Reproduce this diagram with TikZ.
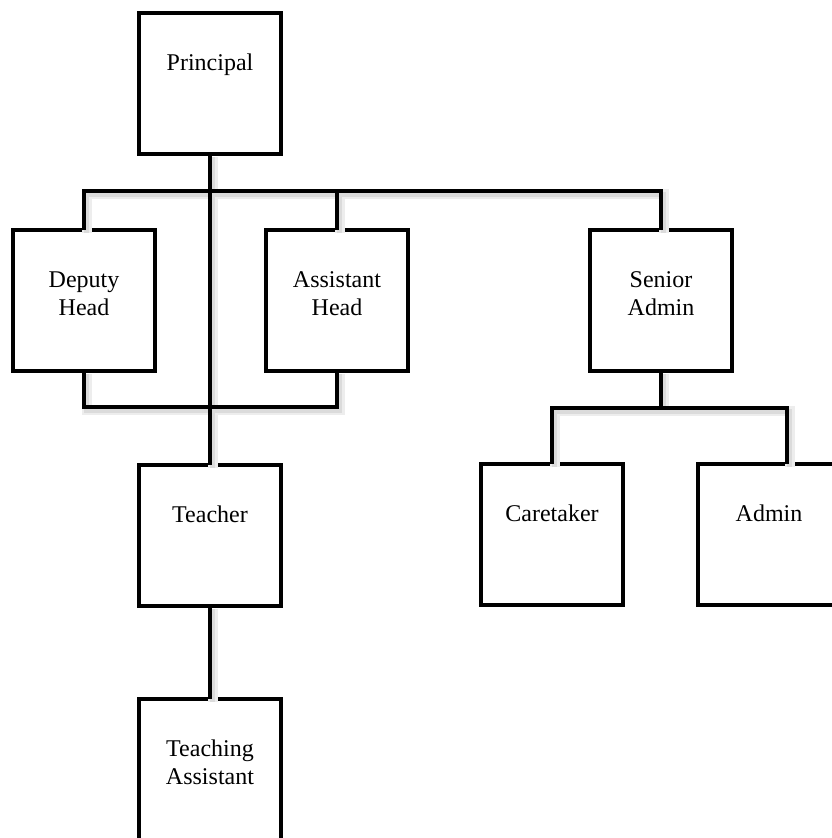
\documentclass[tikz,border=0pt]{standalone}
\usepackage{fontspec}
\setmainfont{Liberation Serif}
\usetikzlibrary{calc}
\newcommand{\bxtext}[1]{\parbox[t][141pt][t]{142pt}{\centering\fontsize{24}{28}\selectfont\rule{0pt}{57pt}#1}}
\newcommand{\orgconnectors}{%
  \draw (deputy.north) -- (deputy.north |- topbar) -- (senior.north |- topbar) -- (senior.north);
  \draw (assistant.north) -- (assistant.north |- topbar);
  \draw (principal.south) -- (teacher.north);
  \draw (deputy.south) -- (deputy.south |- lowbar) -- (assistant.south |- lowbar) -- (assistant.south);
  \draw (teacher.south) -- (ta.north);
  \draw (senior.south) -- (senior.south |- admbar);
  \draw (caretaker.north) -- (caretaker.north |- admbar) -- (admtop |- admbar) -- (admtop);
}
\begin{document}
\begin{tikzpicture}[x=1pt,y=1pt,
  orgbox/.style={draw=black, fill=white, line width=4pt, inner sep=0pt, outer sep=0pt, anchor=north west},
  connshadowa/.style={draw=black!7, line width=10pt, transform canvas={shift={(2.5pt,-3pt)}}},
  connshadowb/.style={draw=black!14, line width=5pt, transform canvas={shift={(2.5pt,-3pt)}}},
  connline/.style={draw=black, line width=4pt}]
\useasboundingbox (0,0) rectangle (832,-838);
\clip (0,0) rectangle (832,-838);
\fill[white] (0,0) rectangle (832,-838);
\coordinate (topbar) at (0,-191);
\coordinate (lowbar) at (0,-407);
\coordinate (admbar) at (0,-408);
\node[orgbox] (principal) at (139,-13) {\bxtext{Principal}};
\node[orgbox] (deputy) at (13,-230) {\bxtext{Deputy\\Head}};
\node[orgbox] (assistant) at (266,-230) {\bxtext{Assistant\\Head}};
\node[orgbox] (senior) at (590,-230) {\bxtext{Senior\\Admin}};
\node[orgbox] (teacher) at (139,-465) {\bxtext{Teacher}};
\node[orgbox] (caretaker) at (481,-464) {\bxtext{Caretaker}};
\node[orgbox] (admin) at (698,-464) {\bxtext{Admin}};
\node[orgbox] (ta) at (139,-699) {\bxtext{Teaching\\Assistant}};
\coordinate (admtop) at ($(admin.north west)+(89,0)$);
\begin{scope}[connshadowa]\orgconnectors\end{scope}
\begin{scope}[connshadowb]\orgconnectors\end{scope}
\begin{scope}[connline]\orgconnectors\end{scope}
\end{tikzpicture}
\end{document}
